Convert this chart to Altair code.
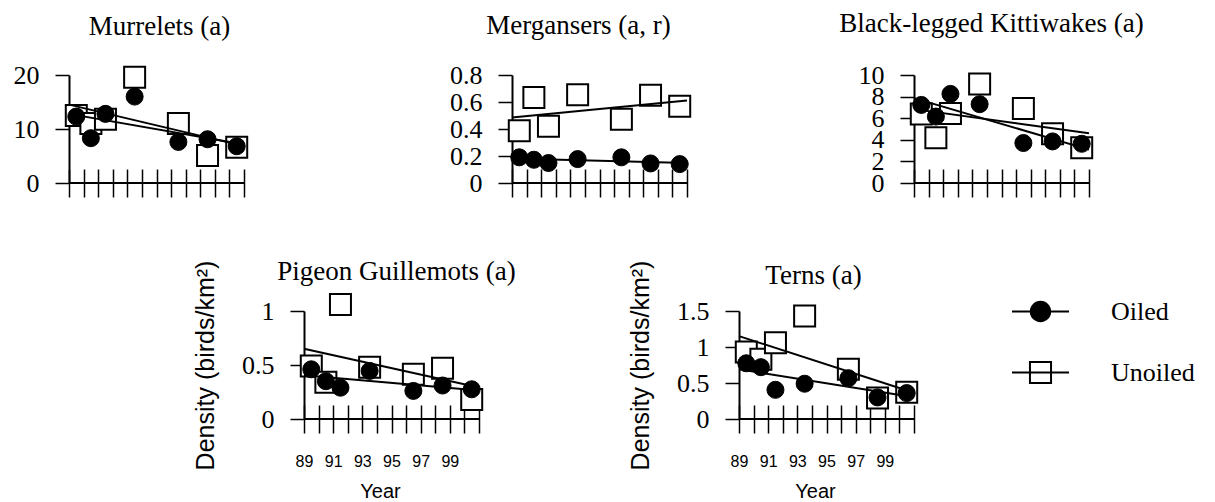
import altair as alt
import pandas as pd

# ---- data ----
survey_years = [89.5, 90.5, 91.5, 93.5, 96.5, 98.5, 100.5]
series_names = ["Oiled", "Unoiled"]
tick_years = [89, 90, 91, 92, 93, 94, 95, 96, 97, 98, 99, 100, 101]
label_years = [89, 91, 93, 95, 97, 99]

murrelets_oiled = [12.3, 8.3, 12.8, 16.0, 7.6, 8.1, 6.8]
murrelets_unoiled = [12.5, 11.0, 11.8, 19.6, 11.0, 5.1, 6.6]
mergansers_oiled = [0.19, 0.172, 0.148, 0.177, 0.19, 0.145, 0.14]
mergansers_unoiled = [0.387, 0.633, 0.42, 0.653, 0.473, 0.65, 0.569]
kittiwakes_oiled = [7.23, 6.15, 8.25, 7.3, 3.7, 3.85, 3.63]
kittiwakes_unoiled = [6.4, 4.2, 6.43, 9.17, 6.9, 4.55, 3.26]
guillemots_oiled = [0.46, 0.35, 0.29, 0.445, 0.26, 0.31, 0.275]
guillemots_unoiled = [0.49, 0.34, 1.06, 0.48, 0.414, 0.47, 0.18]
terns_oiled = [0.774, 0.72, 0.405, 0.49, 0.567, 0.30, 0.36]
terns_unoiled = [0.93, 0.83, 1.06, 1.43, 0.69, 0.29, 0.373]

SERIF = "Liberation Serif"
SANS = "Liberation Sans"
W, H = 175, 108

label_expr = "indexof([%s], datum.value) >= 0 ? datum.label : ''" % ",".join(str(v) for v in label_years)

PATH_OILED = ("M-1,0L1,0M-0.34,0A0.34,0.34,0,1,0,0.34,0"
              "A0.34,0.34,0,1,0,-0.34,0Z")
PATH_UNOILED = "M-1,0L1,0M-0.37,-0.37L0.37,-0.37L0.37,0.37L-0.37,0.37Z"


def panel(title, oiled, unoiled, ymax, yticks, dx=0, toff=21,
          bottom=False, with_legend=False):
    df = pd.DataFrame({
        "year": survey_years * 2,
        "density": oiled + unoiled,
        "series": ["Oiled"] * len(oiled) + ["Unoiled"] * len(unoiled),
    })
    common_x = dict(values=tick_years, tickCount=len(tick_years), domain=False,
                    grid=False, tickSize=28, tickWidth=1.5, tickColor="black",
                    offset=-14, labelOverlap=False, labelFlush=False)
    common_y = dict(values=yticks, tickCount=len(yticks), format="~r",
                    labelFont=SERIF, labelFontSize=26, labelColor="black",
                    labelOverlap=False, labelFlush=False, labelPadding=16,
                    tickSize=14, tickWidth=1.5, tickColor="black",
                    domainColor="black", domainWidth=2, grid=False)
    if bottom:
        xaxis = alt.Axis(labelExpr=label_expr, format="d",
                         labelFont=SANS, labelFontSize=16, labelPadding=20,
                         labelColor="black", labelAngle=0,
                         title="Year", titleFont=SANS, titleFontSize=20,
                         titleFontWeight="normal", titlePadding=12, titleX=76,
                         titleColor="black", **common_x)
        yaxis = alt.Axis(title="Density (birds/km²)", titleFont=SANS,
                         titleFontSize=25, titleFontWeight="normal",
                         titlePadding=23, titleColor="black", **common_y)
    else:
        xaxis = alt.Axis(labels=False, title=None, **common_x)
        yaxis = alt.Axis(title=None, **common_y)

    x_enc = alt.X("year:Q", scale=alt.Scale(domain=[89, 101], nice=False, zero=False),
                  axis=xaxis)
    y_enc = alt.Y("density:Q", scale=alt.Scale(domain=[0, ymax], nice=False),
                  axis=yaxis)

    base = alt.Chart(df)
    baseline = base.mark_rule(color="black", strokeWidth=2).encode(
        x=alt.datum(tick_years[0]), x2=alt.datum(tick_years[-1]), y=alt.datum(0))
    squares = base.transform_filter(alt.datum.series == "Unoiled").mark_point(
        shape="square", filled=True, fill="white", stroke="black", strokeWidth=2,
        size=441, opacity=1).encode(x=x_enc, y=y_enc)
    circles = base.transform_filter(alt.datum.series == "Oiled").mark_point(
        shape="circle", filled=True, fill="black", stroke="black", strokeWidth=1,
        size=290, opacity=1).encode(x=x_enc, y=y_enc)
    lines = base.transform_regression(
        "year", "density", groupby=["series"], extent=[89, 101]
    ).mark_line(color="black", strokeWidth=2).encode(
        x=x_enc, y=y_enc, detail="series:N")

    layers = [squares, circles, lines, baseline]
    if with_legend:
        leg = alt.Legend(orient="none", legendX=272, legendY=-29, title=None,
                         symbolSize=3249, symbolStrokeWidth=2,
                         symbolStrokeColor="black", symbolOpacity=1,
                         labelFont=SERIF, labelFontSize=26, labelColor="black",
                         labelOffset=41, rowPadding=17, padding=0, labelLimit=300)
        legend_layer = base.mark_point(filled=True, opacity=0, size=10).encode(
            x=x_enc, y=y_enc,
            shape=alt.Shape("series:N", scale=alt.Scale(domain=series_names,
                            range=[PATH_OILED, PATH_UNOILED]), legend=leg),
            fill=alt.Fill("series:N", scale=alt.Scale(domain=series_names,
                          range=["black", "white"]), legend=leg),
            stroke=alt.Stroke("series:N", scale=alt.Scale(domain=series_names,
                              range=["black", "black"]), legend=leg),
        )
        layers.append(legend_layer)

    return alt.layer(*layers).properties(
        width=W, height=H,
        title=alt.TitleParams(title, font=SERIF, fontSize=27, fontWeight="normal",
                              color="black", anchor="middle", frame="group",
                              offset=toff, dx=dx),
    )


def spacer(width):
    return alt.Chart(pd.DataFrame({"v": []})).mark_point(opacity=0).properties(
        width=width, height=H)


murrelets = panel("Murrelets (a)", murrelets_oiled, murrelets_unoiled, 20,
                  [0, 10, 20], dx=3, toff=21)
mergansers = panel("Mergansers (a, r)", mergansers_oiled, mergansers_unoiled, 0.8,
                   [0, 0.2, 0.4, 0.6, 0.8], dx=-21, toff=22)
kittiwakes = panel("Black-legged Kittiwakes (a)", kittiwakes_oiled,
                   kittiwakes_unoiled, 10, [0, 2, 4, 6, 8, 10], dx=-10, toff=24)
guillemots = panel("Pigeon Guillemots (a)", guillemots_oiled, guillemots_unoiled,
                   1, [0, 0.5, 1], dx=5, toff=-26, bottom=True)
terns = panel("Terns (a)", terns_oiled, terns_unoiled, 1.5, [0, 0.5, 1, 1.5],
              dx=-13, toff=-30, bottom=True, with_legend=True)

# grid columns share their widths across both rows (flush bounds)
chart = alt.concat(
    murrelets, spacer(208), mergansers, spacer(172), kittiwakes,
    spacer(235), guillemots, spacer(227), terns,
    columns=5, spacing={"row": 128, "column": 0}, align="none", bounds="flush",
).resolve_scale(
    shape="independent", fill="independent", stroke="independent"
).resolve_legend(
    shape="independent", fill="independent", stroke="independent"
).properties(
    padding={"left": 5, "top": 2, "right": 0, "bottom": 0},
    background="white",
).configure_view(stroke=None)

chart.save("out.html", embed_options={"renderer": "svg", "actions": False})
